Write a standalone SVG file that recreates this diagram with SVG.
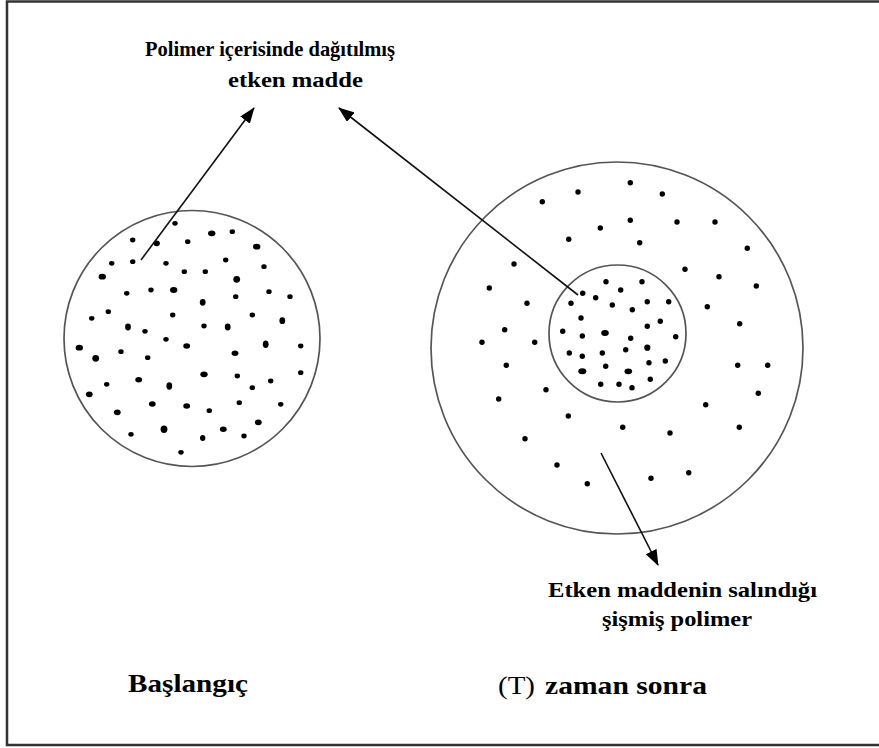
<svg xmlns="http://www.w3.org/2000/svg" width="879" height="748" viewBox="0 0 879 748">
<style>
.frame{fill:#fff;stroke:#333;stroke-width:2.5}
.disc{fill:none;stroke:#555;stroke-width:1.7}
.arrow{stroke:#111;stroke-width:1.6;fill:none;marker-end:url(#ah)}
.dot{fill:#000}
.lbl{font-family:"Liberation Serif","Times New Roman",serif;font-weight:bold;font-size:22px;fill:#000}
.big{font-family:"Liberation Serif","Times New Roman",serif;font-size:26px;fill:#000}
</style>
<defs>
<marker id="ah" markerUnits="userSpaceOnUse" markerWidth="16" markerHeight="12" refX="15" refY="6" orient="auto">
<path d="M0,0 L16,6 L0,12 z" fill="#000"/>
</marker>
</defs>
<rect class="frame" x="7" y="1.5" width="890" height="743.5"/>

<g id="node-start">
<circle class="disc" cx="192" cy="338.5" r="128"/>
<g class="dot">
<ellipse cx="175" cy="223.3" rx="2.7" ry="2.4"/>
<ellipse cx="211.7" cy="233.3" rx="3.7" ry="2.9"/>
<ellipse cx="232.3" cy="231.7" rx="2.7" ry="2.4"/>
<ellipse cx="132.7" cy="240" rx="2.7" ry="2.4"/>
<ellipse cx="156.7" cy="243.3" rx="3.2" ry="2.9"/>
<ellipse cx="187.7" cy="241.7" rx="2.7" ry="2.4"/>
<ellipse cx="256.7" cy="246.7" rx="3.7" ry="2.9"/>
<ellipse cx="111.7" cy="263.3" rx="2.7" ry="2.4"/>
<ellipse cx="132.7" cy="261.7" rx="2.7" ry="2.4"/>
<ellipse cx="166" cy="263.3" rx="2.7" ry="2.4"/>
<ellipse cx="225.7" cy="260" rx="2.7" ry="2.4"/>
<ellipse cx="264" cy="266.7" rx="2.7" ry="2.4"/>
<ellipse cx="184.3" cy="271.7" rx="2.7" ry="2.4"/>
<ellipse cx="205.3" cy="271.7" rx="2.7" ry="2.4"/>
<ellipse cx="102.3" cy="276.7" rx="3.7" ry="2.9"/>
<ellipse cx="236.7" cy="279.3" rx="3.4" ry="3.4"/>
<ellipse cx="126.7" cy="293.3" rx="2.7" ry="2.4"/>
<ellipse cx="151" cy="290" rx="2.7" ry="2.4"/>
<ellipse cx="173.7" cy="290" rx="3.7" ry="2.9"/>
<ellipse cx="202.7" cy="302.3" rx="2.9" ry="3.4"/>
<ellipse cx="235.7" cy="296.7" rx="2.7" ry="2.4"/>
<ellipse cx="269" cy="291.7" rx="2.7" ry="2.4"/>
<ellipse cx="290" cy="296.7" rx="2.7" ry="2.4"/>
<ellipse cx="91.7" cy="318.3" rx="2.7" ry="2.4"/>
<ellipse cx="108.3" cy="311.7" rx="2.7" ry="2.4"/>
<ellipse cx="172.7" cy="315" rx="2.7" ry="2.4"/>
<ellipse cx="252.3" cy="315" rx="2.7" ry="2.4"/>
<ellipse cx="282.3" cy="320.7" rx="2.9" ry="3.4"/>
<ellipse cx="128" cy="327" rx="2.9" ry="3.4"/>
<ellipse cx="145" cy="331.3" rx="2.7" ry="2.4"/>
<ellipse cx="204" cy="326" rx="2.7" ry="2.4"/>
<ellipse cx="227.7" cy="327" rx="2.9" ry="3.4"/>
<ellipse cx="166" cy="339.3" rx="2.7" ry="2.4"/>
<ellipse cx="79.3" cy="347.7" rx="3.7" ry="2.9"/>
<ellipse cx="95.7" cy="358.3" rx="3.4" ry="3.4"/>
<ellipse cx="121" cy="351.7" rx="2.7" ry="2.4"/>
<ellipse cx="186.7" cy="346" rx="3.4" ry="2.7"/>
<ellipse cx="265.7" cy="344.3" rx="2.9" ry="3.7"/>
<ellipse cx="300.7" cy="346" rx="2.7" ry="2.4"/>
<ellipse cx="147.7" cy="357.7" rx="2.7" ry="2.4"/>
<ellipse cx="235" cy="353.3" rx="3.4" ry="2.7"/>
<ellipse cx="204" cy="374.3" rx="3.7" ry="2.9"/>
<ellipse cx="237.3" cy="376" rx="2.7" ry="2.4"/>
<ellipse cx="300.7" cy="372.7" rx="2.7" ry="2.4"/>
<ellipse cx="138.7" cy="379.7" rx="3.4" ry="2.7"/>
<ellipse cx="106.7" cy="384.3" rx="2.7" ry="2.4"/>
<ellipse cx="169.3" cy="386" rx="2.9" ry="3.7"/>
<ellipse cx="252.3" cy="387.7" rx="2.7" ry="2.4"/>
<ellipse cx="270.7" cy="381" rx="2.7" ry="2.4"/>
<ellipse cx="89.3" cy="394.3" rx="3.4" ry="2.9"/>
<ellipse cx="152.3" cy="404" rx="3.4" ry="2.7"/>
<ellipse cx="186.7" cy="406" rx="3.4" ry="2.7"/>
<ellipse cx="209.3" cy="410.7" rx="2.7" ry="2.4"/>
<ellipse cx="239.3" cy="402.7" rx="2.7" ry="2.4"/>
<ellipse cx="280.7" cy="404.3" rx="2.7" ry="2.4"/>
<ellipse cx="117.3" cy="412.3" rx="3.4" ry="2.9"/>
<ellipse cx="258.3" cy="422.3" rx="3.4" ry="2.9"/>
<ellipse cx="131" cy="434.3" rx="2.7" ry="2.4"/>
<ellipse cx="164" cy="429.3" rx="3.4" ry="3.7"/>
<ellipse cx="202.7" cy="438" rx="2.7" ry="2.9"/>
<ellipse cx="223.3" cy="429.3" rx="3.4" ry="2.7"/>
<ellipse cx="244" cy="436" rx="2.7" ry="2.4"/>
<ellipse cx="181" cy="452.3" rx="2.7" ry="2.4"/>
</g>
</g>

<g id="node-after">
<circle class="disc" cx="617" cy="348" r="186"/>
<circle class="disc" cx="617.5" cy="333.5" r="68.5"/>
<g class="dot">
<circle cx="630.3" cy="182.7" r="2.7"/>
<circle cx="578" cy="192" r="2.7"/>
<circle cx="662.3" cy="194" r="2.7"/>
<circle cx="542.3" cy="201.7" r="2.7"/>
<circle cx="630.3" cy="220.3" r="2.7"/>
<circle cx="600.3" cy="228" r="2.7"/>
<circle cx="677" cy="222" r="2.7"/>
<circle cx="715" cy="222" r="2.7"/>
<circle cx="568.7" cy="239.3" r="2.7"/>
<circle cx="639.7" cy="242.7" r="2.7"/>
<circle cx="747.3" cy="248.3" r="2.7"/>
<circle cx="514" cy="264" r="2.7"/>
<circle cx="685" cy="269.3" r="2.7"/>
<circle cx="719" cy="276.7" r="2.7"/>
<circle cx="756.3" cy="286" r="2.7"/>
<circle cx="489.3" cy="288" r="2.7"/>
<circle cx="527" cy="303.3" r="2.7"/>
<circle cx="707.3" cy="306.7" r="2.7"/>
<circle cx="739.7" cy="323.7" r="2.7"/>
<circle cx="504.7" cy="329.7" r="2.7"/>
<circle cx="482" cy="342.3" r="2.7"/>
<circle cx="534.7" cy="342.3" r="2.7"/>
<circle cx="506.3" cy="365.3" r="2.7"/>
<circle cx="737.7" cy="365.3" r="2.7"/>
<circle cx="767.7" cy="365.3" r="2.7"/>
<circle cx="546" cy="389.7" r="2.7"/>
<circle cx="758.3" cy="393.3" r="2.7"/>
<circle cx="498.7" cy="399" r="2.7"/>
<circle cx="705.7" cy="404.7" r="2.7"/>
<circle cx="568.3" cy="416" r="2.7"/>
<circle cx="622.7" cy="427.3" r="2.7"/>
<circle cx="670" cy="433" r="2.7"/>
<circle cx="739.3" cy="427.3" r="2.7"/>
<circle cx="525" cy="438.7" r="2.7"/>
<circle cx="557" cy="465" r="2.7"/>
<circle cx="651" cy="478.3" r="2.7"/>
<circle cx="688.7" cy="472.7" r="2.7"/>
<circle cx="587.3" cy="483.7" r="2.7"/>
<circle cx="606" cy="281.7" r="2.7"/>
<circle cx="642" cy="281.7" r="2.7"/>
<circle cx="620.7" cy="290" r="2.7"/>
<circle cx="582.7" cy="293.3" r="2.7"/>
<circle cx="595.7" cy="297.7" r="2.7"/>
<circle cx="571" cy="303.3" r="2.7"/>
<circle cx="612.3" cy="305" r="2.7"/>
<circle cx="647.3" cy="301.7" r="2.7"/>
<circle cx="668.7" cy="301.7" r="2.7"/>
<circle cx="632.3" cy="309.7" r="2.7"/>
<circle cx="581" cy="318" r="2.7"/>
<circle cx="660.3" cy="321.3" r="2.7"/>
<circle cx="647.3" cy="326.3" r="2.7"/>
<circle cx="562.7" cy="331.3" r="2.7"/>
<circle cx="582.3" cy="336" r="2.7"/>
<ellipse cx="605" cy="333" rx="3.8" ry="2.9"/>
<circle cx="630.7" cy="338.3" r="2.7"/>
<circle cx="675.7" cy="336.7" r="2.7"/>
<circle cx="647.3" cy="347.7" r="3.1"/>
<circle cx="625.7" cy="349.7" r="2.7"/>
<circle cx="569.3" cy="353" r="2.7"/>
<circle cx="582.3" cy="356.3" r="2.7"/>
<circle cx="602.3" cy="353" r="2.7"/>
<circle cx="649" cy="362.7" r="2.7"/>
<circle cx="665.3" cy="361" r="2.7"/>
<ellipse cx="582.3" cy="371.3" rx="4" ry="3"/>
<circle cx="605.7" cy="366.3" r="2.7"/>
<ellipse cx="628.3" cy="371.3" rx="3.8" ry="2.9"/>
<circle cx="650.3" cy="379.3" r="2.7"/>
<circle cx="600.7" cy="384.3" r="2.7"/>
<circle cx="619" cy="384.3" r="2.7"/>
<circle cx="632" cy="387.7" r="2.7"/>
</g>
</g>

<g id="connectors">
<line class="arrow" x1="141" y1="260" x2="254" y2="108"/>
<line class="arrow" x1="578" y1="295" x2="339" y2="108"/>
<line class="arrow" x1="601" y1="453" x2="658" y2="565"/>
</g>

<g id="label-dispersed">
<text class="lbl" x="145" y="56" textLength="250" lengthAdjust="spacingAndGlyphs">Polimer içerisinde dağıtılmış</text>
<text class="lbl" x="228" y="87" textLength="135" lengthAdjust="spacingAndGlyphs">etken madde</text>
</g>
<g id="label-swollen">
<text class="lbl" x="548" y="597" textLength="269" lengthAdjust="spacingAndGlyphs">Etken maddenin salındığı</text>
<text class="lbl" x="602" y="626" textLength="150" lengthAdjust="spacingAndGlyphs">şişmiş polimer</text>
</g>
<g id="label-start">
<text class="big" x="128" y="692" font-weight="bold" textLength="120" lengthAdjust="spacingAndGlyphs">Başlangıç</text>
</g>
<g id="label-after">
<text class="big" x="498" y="694" textLength="37" lengthAdjust="spacingAndGlyphs">(T)</text>
<text class="big" x="545" y="694" font-weight="bold" textLength="162" lengthAdjust="spacingAndGlyphs">zaman sonra</text>
</g>
</svg>
